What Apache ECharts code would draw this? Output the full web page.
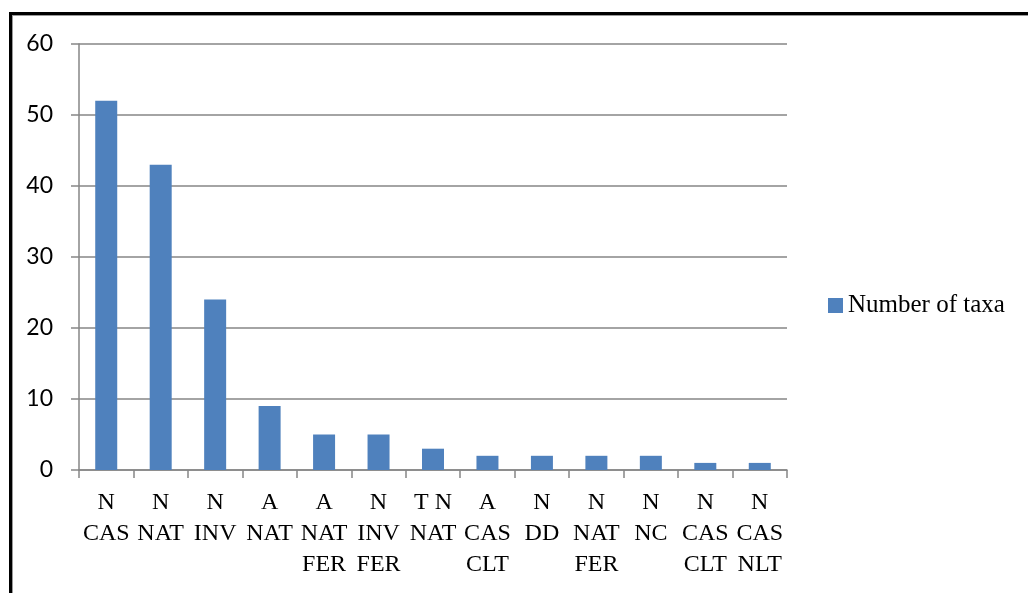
<!DOCTYPE html>
<html>
<head>
<meta charset="utf-8">
<script src="https://cdn.jsdelivr.net/npm/echarts@6/dist/echarts.min.js"></script>
<style>
  html, body { margin: 0; padding: 0; background: #ffffff; }
  #chart { width: 1028px; height: 593px; }
</style>
</head>
<body>
<div id="chart"></div>
<script>
// Category codes (each line of a label is one part of the code)
const categories = [
  'N\nCAS', 'N\nNAT', 'N\nINV', 'A\nNAT', 'A\nNAT\nFER', 'N\nINV\nFER', 'T N\nNAT',
  'A\nCAS\nCLT', 'N\nDD', 'N\nNAT\nFER', 'N\nNC', 'N\nCAS\nCLT', 'N\nCAS\nNLT'
];
const taxaCounts = [52, 43, 24, 9, 5, 5, 3, 2, 2, 2, 2, 1, 1];
const seriesName = 'Number of taxa';
const yTicks = { min: 0, max: 60, interval: 10 };

const axisGray = '#868686';
const serif = 'Liberation Serif';

const chart = echarts.init(document.getElementById('chart'), null, { renderer: 'canvas' });

chart.setOption({
  animation: false,
  backgroundColor: '#ffffff',
  grid: { left: 79, top: 44, right: 241, bottom: 123, containLabel: false },
  legend: {
    data: [seriesName],
    left: 828,
    top: 293,
    padding: 0,
    icon: 'rect',
    itemWidth: 15,
    itemHeight: 15,
    itemGap: 5,
    textStyle: { fontFamily: serif, fontSize: 25, color: '#000000', lineHeight: 24 }
  },
  xAxis: {
    type: 'category',
    data: categories,
    axisLine: { lineStyle: { color: axisGray, width: 1.5 } },
    axisTick: { show: true, length: 8, lineStyle: { color: axisGray, width: 1.5 } },
    axisLabel: {
      interval: 0,
      margin: 17,
      fontFamily: serif,
      fontSize: 24,
      lineHeight: 31,
      color: '#000000',
      align: 'center'
    }
  },
  yAxis: {
    type: 'value',
    min: yTicks.min,
    max: yTicks.max,
    interval: yTicks.interval,
    axisLine: { show: true, lineStyle: { color: axisGray, width: 1.5 } },
    axisTick: { show: true, length: 8, lineStyle: { color: axisGray, width: 1.5 } },
    splitLine: { lineStyle: { color: axisGray, width: 1.5 } },
    axisLabel: { margin: 26, fontFamily: 'Lato', fontSize: 23, color: '#000000' }
  },
  series: [{
    name: seriesName,
    type: 'bar',
    data: taxaCounts,
    barWidth: 22,
    itemStyle: { color: '#4F81BD' }
  }],
  graphic: [
    // chart frame: top and left edges
    { type: 'rect', shape: { x: 9, y: 12, width: 1019, height: 3 }, style: { fill: '#000000' } },
    { type: 'rect', shape: { x: 9, y: 15, width: 1019, height: 1 }, style: { fill: '#9a9a9a' } },
    { type: 'rect', shape: { x: 9, y: 12, width: 3, height: 581 }, style: { fill: '#000000' } },
    { type: 'rect', shape: { x: 12, y: 15, width: 1, height: 578 }, style: { fill: '#9a9a9a' } }
  ]
});
</script>
</body>
</html>
